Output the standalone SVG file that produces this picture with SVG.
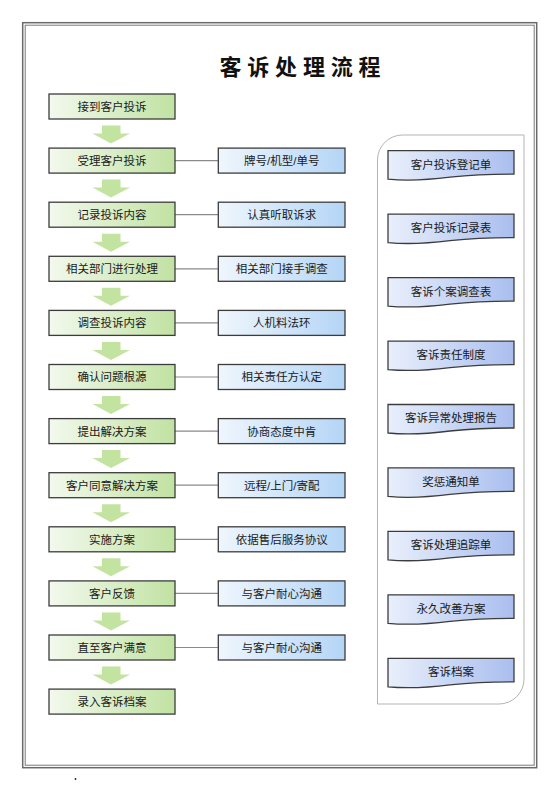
<svg xmlns="http://www.w3.org/2000/svg" width="560" height="792" viewBox="0 0 560 792">
<defs>
<linearGradient id="gGreen" x1="0" y1="0" x2="1" y2="0">
<stop offset="0" stop-color="#f3f9ee"/>
<stop offset="1" stop-color="#c1e2a2"/>
</linearGradient>
<linearGradient id="gBlue" x1="0" y1="0" x2="1" y2="0">
<stop offset="0" stop-color="#eff6fd"/>
<stop offset="1" stop-color="#b4d5f6"/>
</linearGradient>
<linearGradient id="gDoc" x1="0" y1="0" x2="1" y2="0">
<stop offset="0" stop-color="#e9effb"/>
<stop offset="1" stop-color="#aabeee"/>
</linearGradient>
<path id="arrowShape" d="M-9.5,0 H9 V8 H18.5 L-0.5,18 L-19,8 H-9.5 Z"/>
<path id="docShape" d="M0,0 H126 V23.5 C102,23.5 82,24.5 62,26.5 C42,29 17,30 0,28.5 Z"/>
</defs>
<style>
.frameO{fill:none;stroke:#6a6a6a;stroke-width:1.5}
.frameI{fill:none;stroke:#7a7a7a;stroke-width:1}
.gbox{fill:url(#gGreen);stroke:#3c3c3c;stroke-width:1.3}
.bbox{fill:url(#gBlue);stroke:#3c3c3c;stroke-width:1.3}
.doc{fill:url(#gDoc);stroke:#3c3c3c;stroke-width:1.3}
.arr{fill:#c3e3a0}
.conn{stroke:#8a8a8a;stroke-width:1.2;fill:none}
.panel{fill:#ffffff;stroke:#b4b4b4;stroke-width:1}
.t{font-family:"Liberation Sans","Noto Sans CJK SC",sans-serif;font-size:11.5px;fill:#1a1a1a;text-anchor:middle}
.title{font-family:"Noto Sans CJK SC",sans-serif;font-size:22px;font-weight:bold;fill:#111;letter-spacing:5.8px}
</style>
<rect width="560" height="792" fill="#ffffff"/>
<g id="frame">
<rect class="frameO" x="22.7" y="22.7" width="514" height="745"/>
<rect class="frameI" x="25.2" y="25.2" width="509" height="740"/>
</g>
<text id="title" class="title" x="219.5" y="74.5">客诉处理流程</text>
<g id="panel">
<path class="panel" d="M402.5,135 H524 V679 A25,25 0 0 1 499,704 H377.5 V160 A25,25 0 0 1 402.5,135 Z"/>
</g>
<g id="connectors">
<use href="#arrowShape" class="arr" x="111.5" y="125.5"/>
<use href="#arrowShape" class="arr" x="111.5" y="179.6"/>
<use href="#arrowShape" class="arr" x="111.5" y="233.7"/>
<use href="#arrowShape" class="arr" x="111.5" y="287.8"/>
<use href="#arrowShape" class="arr" x="111.5" y="341.9"/>
<use href="#arrowShape" class="arr" x="111.5" y="396"/>
<use href="#arrowShape" class="arr" x="111.5" y="450.1"/>
<use href="#arrowShape" class="arr" x="111.5" y="504.2"/>
<use href="#arrowShape" class="arr" x="111.5" y="558.3"/>
<use href="#arrowShape" class="arr" x="111.5" y="612.4"/>
<use href="#arrowShape" class="arr" x="111.5" y="666.5"/>
<line class="conn" x1="175" y1="160.6" x2="218.3" y2="160.6"/>
<line class="conn" x1="175" y1="214.7" x2="218.3" y2="214.7"/>
<line class="conn" x1="175" y1="268.8" x2="218.3" y2="268.8"/>
<line class="conn" x1="175" y1="322.9" x2="218.3" y2="322.9"/>
<line class="conn" x1="175" y1="377" x2="218.3" y2="377"/>
<line class="conn" x1="175" y1="431.1" x2="218.3" y2="431.1"/>
<line class="conn" x1="175" y1="485.2" x2="218.3" y2="485.2"/>
<line class="conn" x1="175" y1="539.3" x2="218.3" y2="539.3"/>
<line class="conn" x1="175" y1="593.4" x2="218.3" y2="593.4"/>
<line class="conn" x1="175" y1="647.5" x2="218.3" y2="647.5"/>
</g>
<g id="s1"><rect class="gbox" x="49" y="94" width="126" height="25"/><text class="t" x="112" y="110.9">接到客户投诉</text></g>
<g id="s2"><rect class="gbox" x="49" y="148.1" width="126" height="25"/><text class="t" x="112" y="165">受理客户投诉</text></g>
<g id="s3"><rect class="gbox" x="49" y="202.2" width="126" height="25"/><text class="t" x="112" y="219.1">记录投诉内容</text></g>
<g id="s4"><rect class="gbox" x="49" y="256.3" width="126" height="25"/><text class="t" x="112" y="273.2">相关部门进行处理</text></g>
<g id="s5"><rect class="gbox" x="49" y="310.4" width="126" height="25"/><text class="t" x="112" y="327.3">调查投诉内容</text></g>
<g id="s6"><rect class="gbox" x="49" y="364.5" width="126" height="25"/><text class="t" x="112" y="381.4">确认问题根源</text></g>
<g id="s7"><rect class="gbox" x="49" y="418.6" width="126" height="25"/><text class="t" x="112" y="435.5">提出解决方案</text></g>
<g id="s8"><rect class="gbox" x="49" y="472.7" width="126" height="25"/><text class="t" x="112" y="489.6">客户同意解决方案</text></g>
<g id="s9"><rect class="gbox" x="49" y="526.8" width="126" height="25"/><text class="t" x="112" y="543.7">实施方案</text></g>
<g id="s10"><rect class="gbox" x="49" y="580.9" width="126" height="25"/><text class="t" x="112" y="597.8">客户反馈</text></g>
<g id="s11"><rect class="gbox" x="49" y="635" width="126" height="25"/><text class="t" x="112" y="651.9">直至客户满意</text></g>
<g id="s12"><rect class="gbox" x="49" y="689.1" width="126" height="25"/><text class="t" x="112" y="706">录入客诉档案</text></g>
<g id="n1"><rect class="bbox" x="218.3" y="148.1" width="126.7" height="25"/><text class="t" x="281.7" y="165">牌号/机型/单号</text></g>
<g id="n2"><rect class="bbox" x="218.3" y="202.2" width="126.7" height="25"/><text class="t" x="281.7" y="219.1">认真听取诉求</text></g>
<g id="n3"><rect class="bbox" x="218.3" y="256.3" width="126.7" height="25"/><text class="t" x="281.7" y="273.2">相关部门接手调查</text></g>
<g id="n4"><rect class="bbox" x="218.3" y="310.4" width="126.7" height="25"/><text class="t" x="281.7" y="327.3">人机料法环</text></g>
<g id="n5"><rect class="bbox" x="218.3" y="364.5" width="126.7" height="25"/><text class="t" x="281.7" y="381.4">相关责任方认定</text></g>
<g id="n6"><rect class="bbox" x="218.3" y="418.6" width="126.7" height="25"/><text class="t" x="281.7" y="435.5">协商态度中肯</text></g>
<g id="n7"><rect class="bbox" x="218.3" y="472.7" width="126.7" height="25"/><text class="t" x="281.7" y="489.6">远程/上门/寄配</text></g>
<g id="n8"><rect class="bbox" x="218.3" y="526.8" width="126.7" height="25"/><text class="t" x="281.7" y="543.7">依据售后服务协议</text></g>
<g id="n9"><rect class="bbox" x="218.3" y="580.9" width="126.7" height="25"/><text class="t" x="281.7" y="597.8">与客户耐心沟通</text></g>
<g id="n10"><rect class="bbox" x="218.3" y="635" width="126.7" height="25"/><text class="t" x="281.7" y="651.9">与客户耐心沟通</text></g>
<g id="d1"><use href="#docShape" class="doc" x="388" y="150.7"/><text class="t" x="451" y="168.6">客户投诉登记单</text></g>
<g id="d2"><use href="#docShape" class="doc" x="388" y="214.15"/><text class="t" x="451" y="232">客户投诉记录表</text></g>
<g id="d3"><use href="#docShape" class="doc" x="388" y="277.6"/><text class="t" x="451" y="295.5">客诉个案调查表</text></g>
<g id="d4"><use href="#docShape" class="doc" x="388" y="341.05"/><text class="t" x="451" y="358.9">客诉责任制度</text></g>
<g id="d5"><use href="#docShape" class="doc" x="388" y="404.5"/><text class="t" x="451" y="422.4">客诉异常处理报告</text></g>
<g id="d6"><use href="#docShape" class="doc" x="388" y="467.95"/><text class="t" x="451" y="485.8">奖惩通知单</text></g>
<g id="d7"><use href="#docShape" class="doc" x="388" y="531.4"/><text class="t" x="451" y="549.3">客诉处理追踪单</text></g>
<g id="d8"><use href="#docShape" class="doc" x="388" y="594.85"/><text class="t" x="451" y="612.7">永久改善方案</text></g>
<g id="d9"><use href="#docShape" class="doc" x="388" y="658.3"/><text class="t" x="451" y="676.2">客诉档案</text></g>
<circle id="dot" cx="75.5" cy="779" r="0.9" fill="#222"/>
</svg>
